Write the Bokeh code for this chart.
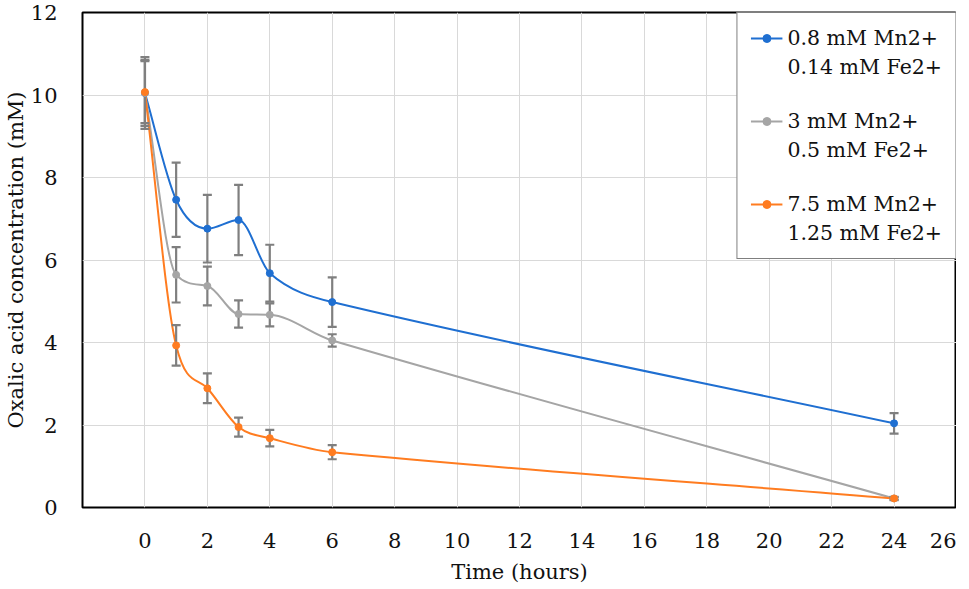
from bokeh.plotting import figure
from bokeh.models import Range1d, FixedTicker, Legend, LegendItem, ColumnDataSource
from bokeh.embed import file_html
from bokeh.resources import INLINE

# ---- data ----
hours = [0, 1, 2, 3, 4, 6, 24]
s1_label = ["0.8 mM Mn2+", "0.14 mM Fe2+"]
s1_vals = [10.05, 7.46, 6.76, 6.97, 5.68, 4.98, 2.04]
s1_err = [0.87, 0.90, 0.82, 0.85, 0.69, 0.60, 0.25]
s2_label = ["3 mM Mn2+", "0.5 mM Fe2+"]
s2_vals = [10.05, 5.64, 5.37, 4.69, 4.67, 4.05, 0.22]
s2_err = [0.80, 0.67, 0.47, 0.33, 0.28, 0.15, 0.03]
s3_label = ["7.5 mM Mn2+", "1.25 mM Fe2+"]
s3_vals = [10.07, 3.93, 2.89, 1.95, 1.68, 1.34, 0.22]
s3_err = [0.75, 0.49, 0.36, 0.23, 0.20, 0.17, 0.04]
x_ticks = [0, 2, 4, 6, 8, 10, 12, 14, 16, 18, 20, 22, 24, 26]
y_ticks = [0, 2, 4, 6, 8, 10, 12]

colors = ["#1f6fd1", "#a5a5a5", "#ff7c20"]
err_color = "#7f7f7f"
FONT = "DejaVu Serif"
TXT = "#111111"


def smooth_segments(xs, ys):
    """Bezier pieces of a smoothed line through the points (monotone cubic, Fritsch-Carlson)."""
    n = len(xs)
    sec = [(ys[i + 1] - ys[i]) / (xs[i + 1] - xs[i]) for i in range(n - 1)]
    m = [0.0] * n
    m[0], m[-1] = sec[0], sec[-1]
    for i in range(1, n - 1):
        if sec[i - 1] * sec[i] <= 0:
            m[i] = 0.0
        else:
            m[i] = (ys[i + 1] - ys[i - 1]) / (xs[i + 1] - xs[i - 1])
    for i in range(n - 1):
        if sec[i] == 0:
            m[i] = m[i + 1] = 0.0
            continue
        a, b = m[i] / sec[i], m[i + 1] / sec[i]
        s = a * a + b * b
        if s > 9:
            t = 3.0 / s ** 0.5
            m[i], m[i + 1] = t * a * sec[i], t * b * sec[i]
    out = dict(x0=[], y0=[], x1=[], y1=[], cx0=[], cy0=[], cx1=[], cy1=[])
    for i in range(n - 1):
        h = xs[i + 1] - xs[i]
        out["x0"].append(xs[i]); out["y0"].append(ys[i])
        out["x1"].append(xs[i + 1]); out["y1"].append(ys[i + 1])
        out["cx0"].append(xs[i] + h / 3.0)
        out["cy0"].append(ys[i] + m[i] * h / 3.0)
        out["cx1"].append(xs[i + 1] - h / 3.0)
        out["cy1"].append(ys[i + 1] - m[i + 1] * h / 3.0)
    return out


p = figure(width=956, height=586,
           x_range=Range1d(-2, 26), y_range=Range1d(0, 12),
           output_backend="svg", toolbar_location=None,
           min_border_left=82, min_border_right=0,
           min_border_top=12, min_border_bottom=70)

p.background_fill_color = "white"
p.border_fill_color = "white"
p.outline_line_color = "black"
p.outline_line_width = 2

for ax in (p.xaxis[0], p.yaxis[0]):
    ax.axis_line_color = None
    ax.major_tick_line_color = None
    ax.minor_tick_line_color = None
    ax.major_label_text_font = FONT
    ax.major_label_text_font_size = "21px"
    ax.major_label_text_color = TXT
    ax.axis_label_text_font = FONT
    ax.axis_label_text_font_size = "21px"
    ax.axis_label_text_font_style = "normal"
    ax.axis_label_text_color = TXT

p.xaxis.ticker = FixedTicker(ticks=x_ticks)
p.yaxis.ticker = FixedTicker(ticks=y_ticks)
p.xaxis.axis_label = "Time (hours)"
p.yaxis.axis_label = "Oxalic acid concentration (mM)"
p.xaxis.major_label_standoff = 19
p.xaxis.axis_label_standoff = 9
p.yaxis.major_label_standoff = 19
p.yaxis.axis_label_standoff = 0

p.xgrid.ticker = FixedTicker(ticks=x_ticks[:-1])
p.ygrid.ticker = FixedTicker(ticks=y_ticks[1:-1])
p.xgrid.grid_line_color = "#d9d9d9"
p.ygrid.grid_line_color = "#d9d9d9"
p.xgrid.grid_line_width = 1
p.ygrid.grid_line_width = 1

series = [(s1_label, s1_vals, s1_err), (s2_label, s2_vals, s2_err), (s3_label, s3_vals, s3_err)]

curves = []
for (lab, vals, err), c in zip(series, colors):
    seg = smooth_segments(hours, vals)
    r = p.bezier(source=ColumnDataSource(seg), x0="x0", y0="y0", x1="x1", y1="y1",
                 cx0="cx0", cy0="cy0", cx1="cx1", cy1="cy1",
                 line_color=c, line_width=2)
    curves.append(r)

for (lab, vals, err) in series:
    lo = [v - e for v, e in zip(vals, err)]
    hi = [v + e for v, e in zip(vals, err)]
    p.segment(x0=hours, y0=lo, x1=hours, y1=hi, line_color=err_color, line_width=2.2)
    p.scatter(x=hours + hours, y=lo + hi, marker="dash", size=9,
              line_color=err_color, line_width=2.2)

marks = []
for (lab, vals, err), c in zip(series, colors):
    m = p.scatter(x=hours, y=vals, marker="circle", size=7,
                  fill_color=c, line_color=c)
    marks.append(m)

# an empty, fully transparent renderer for legend rows that carry no glyph
blank = p.scatter(x=[], y=[], marker="circle", size=1, fill_alpha=0, line_alpha=0)

items = []
for k, ((lab, _, _), cr, mr) in enumerate(zip(series, curves, marks)):
    if k > 0:
        items.append(LegendItem(label=" ", renderers=[blank]))
    items.append(LegendItem(label=lab[0], renderers=[cr, mr]))
    items.append(LegendItem(label=lab[1], renderers=[blank]))

legend = Legend(items=items, location="top_right", margin=0, padding=13,
                spacing=5, glyph_width=32, glyph_height=20, label_height=20,
                label_standoff=5, label_width=154,
                label_text_font=FONT, label_text_font_size="20.5px",
                label_text_color=TXT,
                border_line_color="black", border_line_width=1.5,
                background_fill_color="white", background_fill_alpha=1.0)
p.add_layout(legend, "center")

open("out.html", "w").write(file_html(p, INLINE))
